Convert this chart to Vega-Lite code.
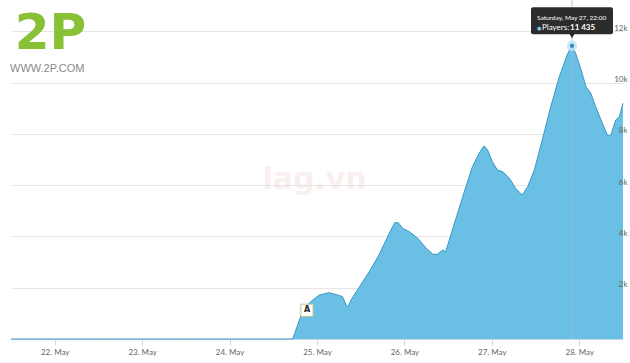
{
  "$schema": "https://vega.github.io/schema/vega-lite/v6.json",
  "width": 612,
  "height": 339,
  "autosize": {"type": "none"},
  "padding": {"left": 11, "top": 0, "right": 7, "bottom": 24},
  "background": "#ffffff",
  "config": {"view": {"stroke": null}, "font": "Lato"},
  "datasets": {
    "players": [
      {"time": "2017-05-21T12:00", "players": 0},
      {"time": "2017-05-22T00:00", "players": 0},
      {"time": "2017-05-22T12:00", "players": 0},
      {"time": "2017-05-23T00:00", "players": 0},
      {"time": "2017-05-23T12:00", "players": 0},
      {"time": "2017-05-24T00:00", "players": 0},
      {"time": "2017-05-24T12:00", "players": 0},
      {"time": "2017-05-24T17:20", "players": 0},
      {"time": "2017-05-24T19:40", "players": 936},
      {"time": "2017-05-24T21:50", "players": 1392},
      {"time": "2017-05-24T22:50", "players": 1521},
      {"time": "2017-05-25T00:40", "players": 1716},
      {"time": "2017-05-25T03:20", "players": 1806},
      {"time": "2017-05-25T05:40", "players": 1716},
      {"time": "2017-05-25T07:00", "players": 1650},
      {"time": "2017-05-25T08:00", "players": 1326},
      {"time": "2017-05-25T08:30", "players": 1260},
      {"time": "2017-05-25T09:20", "players": 1521},
      {"time": "2017-05-25T11:40", "players": 2040},
      {"time": "2017-05-25T14:20", "players": 2625},
      {"time": "2017-05-25T17:00", "players": 3276},
      {"time": "2017-05-25T19:50", "players": 4122},
      {"time": "2017-05-25T21:20", "players": 4536},
      {"time": "2017-05-25T22:20", "players": 4536},
      {"time": "2017-05-25T23:30", "players": 4317},
      {"time": "2017-05-26T01:20", "players": 4185},
      {"time": "2017-05-26T03:40", "players": 3927},
      {"time": "2017-05-26T06:00", "players": 3537},
      {"time": "2017-05-26T07:50", "players": 3303},
      {"time": "2017-05-26T09:00", "players": 3303},
      {"time": "2017-05-26T10:30", "players": 3471},
      {"time": "2017-05-26T11:20", "players": 3405},
      {"time": "2017-05-26T13:10", "players": 4251},
      {"time": "2017-05-26T16:00", "players": 5550},
      {"time": "2017-05-26T18:40", "players": 6720},
      {"time": "2017-05-26T20:30", "players": 7242},
      {"time": "2017-05-26T21:50", "players": 7527},
      {"time": "2017-05-26T22:50", "players": 7371},
      {"time": "2017-05-27T00:10", "players": 6915},
      {"time": "2017-05-27T01:30", "players": 6591},
      {"time": "2017-05-27T03:00", "players": 6525},
      {"time": "2017-05-27T04:50", "players": 6267},
      {"time": "2017-05-27T06:30", "players": 5877},
      {"time": "2017-05-27T08:20", "players": 5616},
      {"time": "2017-05-27T09:50", "players": 5940},
      {"time": "2017-05-27T11:40", "players": 6591},
      {"time": "2017-05-27T13:50", "players": 7761},
      {"time": "2017-05-27T16:10", "players": 9060},
      {"time": "2017-05-27T18:30", "players": 10230},
      {"time": "2017-05-27T20:50", "players": 11142},
      {"time": "2017-05-27T22:00", "players": 11435},
      {"time": "2017-05-27T23:00", "players": 11142},
      {"time": "2017-05-28T00:30", "players": 10491},
      {"time": "2017-05-28T01:50", "players": 9840},
      {"time": "2017-05-28T03:10", "players": 9582},
      {"time": "2017-05-28T04:30", "players": 9060},
      {"time": "2017-05-28T06:20", "players": 8412},
      {"time": "2017-05-28T07:50", "players": 7917},
      {"time": "2017-05-28T08:40", "players": 7956},
      {"time": "2017-05-28T10:00", "players": 8541},
      {"time": "2017-05-28T11:00", "players": 8670},
      {"time": "2017-05-28T12:00", "players": 9192}
    ],
    "single": [{}]
  },
  "data": {"name": "players"},
  "resolve": {"axis": {"y": "independent"}},
  "layer": [
    {
      "mark": {"type": "area", "color": "#69c0e4", "opacity": 1, "line": {"color": "#3a97c6", "strokeWidth": 1}},
      "encoding": {
        "x": {
          "field": "time", "type": "temporal",
          "scale": {"domain": [{"year": 2017, "month": 5, "date": 21, "hours": 12}, {"year": 2017, "month": 5, "date": 28, "hours": 12}]},
          "axis": {"title": null, "format": "%-d. %b", "tickCount": {"interval": "day", "step": 1}, "grid": false, "domain": true, "domainColor": "#ccd6eb", "ticks": true, "tickColor": "#ccd6eb", "tickSize": 6, "labelFont": "Lato", "labelFontSize": 8, "labelColor": "#666666", "labelPadding": 3, "labelFlush": false}
        },
        "y": {
          "field": "players", "type": "quantitative",
          "scale": {"domain": [0, 13221], "nice": false, "zero": true},
          "axis": {"orient": "right", "title": null, "values": [2000, 4000, 6000, 8000, 10000, 12000], "grid": true, "gridColor": "#e6e6e6", "labels": false, "ticks": false, "domain": false, "zindex": 0}
        }
      }
    },
    {
      "transform": [{"filter": "datum.players == 11435"}],
      "mark": {"type": "rule", "color": "#9fc3d6", "strokeWidth": 1, "opacity": 0.8},
      "encoding": {
        "x": {"field": "time", "type": "temporal"}
      }
    },
    {
      "transform": [{"filter": "datum.players == 11435"}],
      "mark": {"type": "point", "filled": true, "color": "#bfe4f5", "opacity": 0.85, "size": 110},
      "encoding": {
        "x": {"field": "time", "type": "temporal"},
        "y": {"field": "players", "type": "quantitative",
          "axis": {"orient": "right", "title": null, "values": [2000, 4000, 6000, 8000, 10000, 12000], "grid": false, "labels": true, "labelExpr": "datum.value / 1000 + 'k'", "labelAlign": "right", "labelPadding": 4, "labelOffset": -3, "labelFont": "Lato", "labelFontSize": 8, "labelColor": "#666666", "ticks": false, "domain": false, "zindex": 1}}
      }
    },
    {
      "transform": [{"filter": "datum.players == 11435"}],
      "mark": {"type": "point", "filled": true, "color": "#2f86b8", "opacity": 1, "size": 18},
      "encoding": {
        "x": {"field": "time", "type": "temporal"},
        "y": {"field": "players", "type": "quantitative", "axis": null}
      }
    },
    {
      "transform": [{"filter": "datum.players == 11435"}],
      "mark": {"type": "rect", "width": 82, "height": 27, "color": "#1c1c1c", "opacity": 0.93, "cornerRadius": 2, "yOffset": -25},
      "encoding": {
        "x": {"field": "time", "type": "temporal"},
        "y": {"field": "players", "type": "quantitative", "axis": null}
      }
    },
    {
      "transform": [{"filter": "datum.players == 11435"}],
      "mark": {"type": "point", "shape": "triangle-down", "filled": true, "color": "#1c1c1c", "opacity": 0.93, "size": 30, "yOffset": -10},
      "encoding": {
        "x": {"field": "time", "type": "temporal"},
        "y": {"field": "players", "type": "quantitative", "axis": null}
      }
    },
    {
      "transform": [{"filter": "datum.players == 11435"}],
      "mark": {"type": "text", "text": "Saturday, May 27, 22:00", "align": "left", "baseline": "middle", "dx": -35, "dy": -28, "fontSize": 6.5, "font": "Lato", "color": "#ffffff"},
      "encoding": {
        "x": {"field": "time", "type": "temporal"},
        "y": {"field": "players", "type": "quantitative", "axis": null}
      }
    },
    {
      "transform": [{"filter": "datum.players == 11435"}],
      "mark": {"type": "text", "text": "●", "align": "left", "baseline": "middle", "dx": -35, "dy": -18, "fontSize": 5, "font": "DejaVu Sans", "color": "#7cc4e8"},
      "encoding": {
        "x": {"field": "time", "type": "temporal"},
        "y": {"field": "players", "type": "quantitative", "axis": null}
      }
    },
    {
      "transform": [{"filter": "datum.players == 11435"}],
      "mark": {"type": "text", "text": "Players:", "align": "left", "baseline": "middle", "dx": -30, "dy": -18, "fontSize": 8, "font": "Lato", "color": "#ffffff"},
      "encoding": {
        "x": {"field": "time", "type": "temporal"},
        "y": {"field": "players", "type": "quantitative", "axis": null}
      }
    },
    {
      "transform": [{"filter": "datum.players == 11435"}],
      "mark": {"type": "text", "text": "11 435", "align": "left", "baseline": "middle", "dx": -2, "dy": -18, "fontSize": 8, "font": "Lato", "fontWeight": "bold", "color": "#ffffff"},
      "encoding": {
        "x": {"field": "time", "type": "temporal"},
        "y": {"field": "players", "type": "quantitative", "axis": null}
      }
    },
    {
      "data": {"name": "single"},
      "mark": {"type": "point", "shape": "square", "filled": true, "color": "#ffffff", "stroke": "#b8c28e", "strokeWidth": 1, "opacity": 1, "size": 150},
      "encoding": {
        "x": {"datum": {"year": 2017, "month": 5, "date": 24, "hours": 21, "minutes": 15}, "type": "temporal"},
        "y": {"datum": 1120, "type": "quantitative", "axis": null}
      }
    },
    {
      "data": {"name": "single"},
      "mark": {"type": "text", "text": "A", "align": "center", "baseline": "middle", "fontSize": 8, "font": "DejaVu Sans", "fontWeight": "bold", "color": "#222222"},
      "encoding": {
        "x": {"datum": {"year": 2017, "month": 5, "date": 24, "hours": 21, "minutes": 15}, "type": "temporal"},
        "y": {"datum": 1120, "type": "quantitative", "axis": null}
      }
    },
    {
      "data": {"name": "single"},
      "mark": {"type": "text", "text": "2P", "align": "center", "baseline": "alphabetic", "fontSize": 50, "font": "DejaVu Sans", "fontWeight": "bold", "color": "#88c136"},
      "encoding": {
        "x": {"datum": {"year": 2017, "month": 5, "date": 21, "hours": 22, "minutes": 50}, "type": "temporal"},
        "y": {"datum": 11310, "type": "quantitative", "axis": null}
      }
    },
    {
      "data": {"name": "single"},
      "mark": {"type": "text", "text": "WWW.2P.COM", "align": "left", "baseline": "alphabetic", "dx": -1, "fontSize": 11, "font": "Liberation Sans", "fontWeight": "normal", "color": "#8a8a8a"},
      "encoding": {
        "x": {"datum": {"year": 2017, "month": 5, "date": 21, "hours": 12}, "type": "temporal"},
        "y": {"datum": 10413, "type": "quantitative", "axis": null}
      }
    },
    {
      "data": {"name": "single"},
      "mark": {"type": "text", "text": "lag.vn", "align": "center", "baseline": "middle", "fontSize": 30, "font": "DejaVu Sans", "fontWeight": "bold", "color": "#f4dcdc", "opacity": 0.45},
      "encoding": {
        "x": {"datum": {"year": 2017, "month": 5, "date": 24, "hours": 23, "minutes": 20}, "type": "temporal"},
        "y": {"datum": 6200, "type": "quantitative", "axis": null}
      }
    }
  ]
}
